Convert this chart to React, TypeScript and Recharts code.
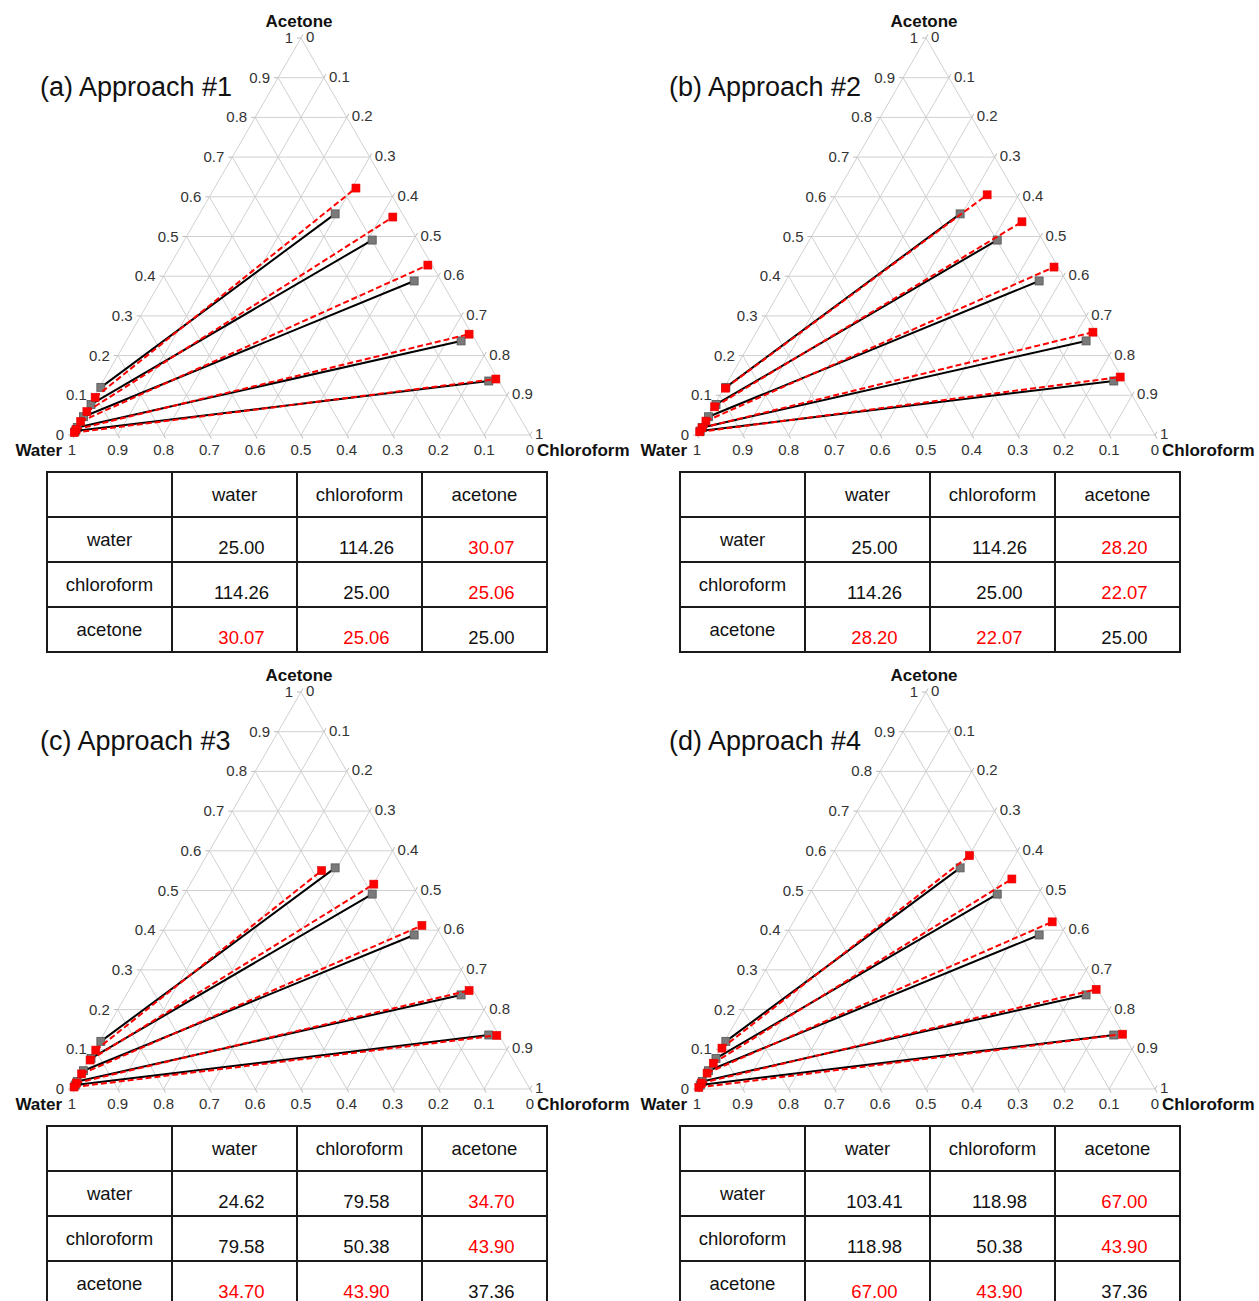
import React from 'react';
import { ScatterChart, Scatter, XAxis, YAxis } from 'recharts';

const FONT = '"Liberation Sans", Arial, Helvetica, sans-serif';

// ---------- axis ticks ----------
const tickValues = [0, 0.1, 0.2, 0.3, 0.4, 0.5, 0.6, 0.7, 0.8, 0.9, 1];
const tickLabels = ['0', '0.1', '0.2', '0.3', '0.4', '0.5', '0.6', '0.7', '0.8', '0.9', '1'];
const gridValues = [0.1, 0.2, 0.3, 0.4, 0.5, 0.6, 0.7, 0.8, 0.9];
const vertexNames = ['Water', 'Chloroform', 'Acetone'];
const componentNames = ['water', 'chloroform', 'acetone'];

// ---------- experimental tie lines (mole fractions) ----------
const expAqChloroform = [0.003, 0.003, 0.002, 0.002, 0.002];
const expAqAcetone = [0.12, 0.077, 0.046, 0.019, 0.01];
const expOrgChloroform = [0.296, 0.41, 0.553, 0.731, 0.842];
const expOrgAcetone = [0.557, 0.491, 0.388, 0.237, 0.136];

// ---------- model tie lines, approaches #1..#4 ----------
const aqChloroform = [0.003, 0.003, 0.002, 0.002, 0.002];
const model1AqAcetone = [0.095, 0.059, 0.034, 0.014, 0.006];
const model1OrgChloroform = [0.309, 0.426, 0.563, 0.74, 0.855];
const model1OrgAcetone = [0.622, 0.549, 0.428, 0.254, 0.141];

const model2AqAcetone = [0.118, 0.071, 0.035, 0.018, 0.008];
const model2OrgChloroform = [0.331, 0.441, 0.568, 0.735, 0.851];
const model2OrgAcetone = [0.605, 0.537, 0.423, 0.259, 0.146];

const model3AqAcetone = [0.098, 0.073, 0.038, 0.015, 0.005];
const model3OrgChloroform = [0.27, 0.401, 0.558, 0.743, 0.86];
const model3OrgAcetone = [0.55, 0.516, 0.412, 0.248, 0.135];

const model4AqAcetone = [0.103, 0.065, 0.04, 0.015, 0.004];
const model4OrgChloroform = [0.301, 0.423, 0.565, 0.746, 0.86];
const model4OrgAcetone = [0.588, 0.529, 0.421, 0.251, 0.138];

// ---------- parameter tables ----------
const table1 = [
  [25.0, 114.26, 30.07],
  [114.26, 25.0, 25.06],
  [30.07, 25.06, 25.0],
];
const table2 = [
  [25.0, 114.26, 28.2],
  [114.26, 25.0, 22.07],
  [28.2, 22.07, 25.0],
];
const table3 = [
  [24.62, 79.58, 34.7],
  [79.58, 50.38, 43.9],
  [34.7, 43.9, 37.36],
];
const table4 = [
  [103.41, 118.98, 67.0],
  [118.98, 50.38, 43.9],
  [67.0, 43.9, 37.36],
];

const titles = ['(a) Approach #1', '(b) Approach #2', '(c) Approach #3', '(d) Approach #4'];

// ternary (chloroform, acetone) -> cartesian in the unit triangle
const toXY = (c: number, a: number) => ({ x: c + a / 2, y: a });

const gridSegments: { x: number; y: number }[][] = [];
gridValues.forEach((v) => {
  gridSegments.push([toXY(0, v), toXY(1 - v, v)]); // acetone = v
  gridSegments.push([toXY(v, 0), toXY(v, 1 - v)]); // chloroform = v
  gridSegments.push([toXY(1 - v, 0), toXY(0, 1 - v)]); // water = v
});
const edgeSegments = [
  [toXY(0, 0), toXY(1, 0)],
  [toXY(1, 0), toXY(0, 1)],
  [toXY(0, 1), toXY(0, 0)],
];

const leftTicks = tickValues.map((v, i) => ({ ...toXY(0, v), label: tickLabels[i] }));
const rightTicks = tickValues.map((v, i) => ({ ...toXY(v, 1 - v), label: tickLabels[i] }));
const bottomTicks = tickValues.map((v, i) => ({ ...toXY(1 - v, 0), label: tickLabels[i] }));
const vertices = [
  { ...toXY(0, 0), label: vertexNames[0], pos: 'w' },
  { ...toXY(1, 0), label: vertexNames[1], pos: 'c' },
  { ...toXY(0, 1), label: vertexNames[2], pos: 'a' },
];

const TICK_COLOR = '#333';
const GRID = '#d0d0d0';

const noShape = () => <g />;

const renderLeftTick = (p: any) => (
  <g>
    <line x1={p.cx} y1={p.cy} x2={p.cx - 4} y2={p.cy} stroke="#bbb" />
    <text x={p.cx - 8} y={p.cy + 5} textAnchor="end" fontSize={15} fontFamily={FONT} fill={TICK_COLOR}>
      {p.payload.label}
    </text>
  </g>
);
const renderRightTick = (p: any) => (
  <g>
    <line x1={p.cx} y1={p.cy} x2={p.cx + 2} y2={p.cy - 3.5} stroke="#bbb" />
    <text x={p.cx + 5} y={p.cy + 4} textAnchor="start" fontSize={15} fontFamily={FONT} fill={TICK_COLOR}>
      {p.payload.label}
    </text>
  </g>
);
const renderBottomTick = (p: any) => (
  <g>
    <line x1={p.cx} y1={p.cy} x2={p.cx + 2} y2={p.cy + 3.5} stroke="#bbb" />
    <text x={p.cx} y={p.cy + 20} textAnchor="middle" fontSize={15} fontFamily={FONT} fill={TICK_COLOR}>
      {p.payload.label}
    </text>
  </g>
);
const renderVertex = (p: any) => {
  const pos = p.payload.pos;
  let x = p.cx;
  let y = p.cy;
  let anchor = 'middle';
  if (pos === 'w') {
    x = p.cx - 10;
    y = p.cy + 21;
    anchor = 'end';
  } else if (pos === 'c') {
    x = p.cx + 7;
    y = p.cy + 21;
    anchor = 'start';
  } else {
    x = p.cx - 2;
    y = p.cy - 11;
  }
  return (
    <text x={x} y={y} textAnchor={anchor} fontSize={17} fontWeight="bold" fontFamily={FONT} fill="#111">
      {p.payload.label}
    </text>
  );
};
const renderGraySquare = (p: any) => (
  <rect x={p.cx - 4} y={p.cy - 4} width={8} height={8} fill="#7a7a7a" stroke="#555" strokeWidth={0.8} />
);
const renderRedSquare = (p: any) => (
  <rect x={p.cx - 4} y={p.cy - 4} width={8} height={8} fill="#ff0000" stroke="#e00000" strokeWidth={0.6} />
);

type PanelProps = {
  left: number;
  top: number;
  title: string;
  titleLeft: number;
  aqAcetone: number[];
  orgChloroform: number[];
  orgAcetone: number[];
};

function TernaryPanel({ left, top, title, titleLeft, aqAcetone, orgChloroform, orgAcetone }: PanelProps) {
  const expLines = expAqAcetone.map((_, i) => [
    toXY(expAqChloroform[i], expAqAcetone[i]),
    toXY(expOrgChloroform[i], expOrgAcetone[i]),
  ]);
  const modelLines = aqAcetone.map((_, i) => [
    toXY(aqChloroform[i], aqAcetone[i]),
    toXY(orgChloroform[i], orgAcetone[i]),
  ]);
  return (
    <div style={{ position: 'absolute', left, top, width: 640, height: 460 }}>
      <ScatterChart width={640} height={460} margin={{ top: 38, right: 110, bottom: 25, left: 72 }}>
        <XAxis type="number" dataKey="x" domain={[0, 1]} hide />
        <YAxis type="number" dataKey="y" domain={[0, 1]} hide />
        {gridSegments.map((s, i) => (
          <Scatter key={'g' + i} data={s} line={{ stroke: GRID, strokeWidth: 1 }} shape={noShape} isAnimationActive={false} />
        ))}
        {edgeSegments.map((s, i) => (
          <Scatter key={'e' + i} data={s} line={{ stroke: GRID, strokeWidth: 1 }} shape={noShape} isAnimationActive={false} />
        ))}
        <Scatter data={leftTicks} shape={renderLeftTick} isAnimationActive={false} />
        <Scatter data={rightTicks} shape={renderRightTick} isAnimationActive={false} />
        <Scatter data={bottomTicks} shape={renderBottomTick} isAnimationActive={false} />
        <Scatter data={vertices} shape={renderVertex} isAnimationActive={false} />
        {expLines.map((d, i) => (
          <Scatter
            key={'x' + i}
            data={d}
            line={{ stroke: '#000', strokeWidth: 2 }}
            shape={renderGraySquare}
            isAnimationActive={false}
          />
        ))}
        {modelLines.map((d, i) => (
          <Scatter
            key={'m' + i}
            data={d}
            line={{ stroke: '#ff0000', strokeWidth: 2, strokeDasharray: '6 3' }}
            shape={renderRedSquare}
            isAnimationActive={false}
          />
        ))}
      </ScatterChart>
      <div
        style={{
          position: 'absolute',
          left: titleLeft,
          top: 72,
          fontFamily: FONT,
          fontSize: 27,
          lineHeight: '31px',
          color: '#111',
          whiteSpace: 'nowrap',
        }}
      >
        {title}
      </div>
    </div>
  );
}

function ParamTable({ left, top, values }: { left: number; top: number; values: number[][] }) {
  const cellBase: React.CSSProperties = {
    background: '#fff',
    fontFamily: FONT,
    fontSize: 18.5,
    color: '#111',
    display: 'flex',
    alignItems: 'center',
    justifyContent: 'center',
  };
  const cells: React.ReactNode[] = [];
  cells.push(<div key="corner" style={cellBase} />);
  componentNames.forEach((n) =>
    cells.push(
      <div key={'h' + n} style={cellBase}>
        {n}
      </div>
    )
  );
  values.forEach((row, r) => {
    cells.push(
      <div key={'r' + r} style={cellBase}>
        {componentNames[r]}
      </div>
    );
    row.forEach((v, c) => {
      const red = r !== c && (r === 2 || c === 2);
      cells.push(
        <div
          key={'v' + r + c}
          style={{ ...cellBase, color: red ? '#ff0000' : '#111', paddingLeft: 14, paddingTop: 16, boxSizing: 'border-box' }}
        >
          {v.toFixed(2)}
        </div>
      );
    });
  });
  return (
    <div
      style={{
        position: 'absolute',
        left: left - 1,
        top: top - 1,
        display: 'grid',
        gridTemplateColumns: 'repeat(4, 123px)',
        gridTemplateRows: 'repeat(4, 43px)',
        gap: 2,
        padding: 2,
        background: '#1a1a1a',
      }}
    >
      {cells}
    </div>
  );
}

export default function App() {
  return (
    <div
      style={{
        position: 'absolute',
        left: 0,
        top: 0,
        width: 1259,
        height: 1301,
        overflow: 'hidden',
        background: '#fff',
      }}
    >
      <TernaryPanel left={0} top={0} title={titles[0]} titleLeft={40} aqAcetone={model1AqAcetone} orgChloroform={model1OrgChloroform} orgAcetone={model1OrgAcetone} />
      <TernaryPanel left={625} top={0} title={titles[1]} titleLeft={44} aqAcetone={model2AqAcetone} orgChloroform={model2OrgChloroform} orgAcetone={model2OrgAcetone} />
      <TernaryPanel left={0} top={654} title={titles[2]} titleLeft={40} aqAcetone={model3AqAcetone} orgChloroform={model3OrgChloroform} orgAcetone={model3OrgAcetone} />
      <TernaryPanel left={625} top={654} title={titles[3]} titleLeft={44} aqAcetone={model4AqAcetone} orgChloroform={model4OrgChloroform} orgAcetone={model4OrgAcetone} />
      <ParamTable left={47} top={472} values={table1} />
      <ParamTable left={680} top={472} values={table2} />
      <ParamTable left={47} top={1126} values={table3} />
      <ParamTable left={680} top={1126} values={table4} />
    </div>
  );
}
